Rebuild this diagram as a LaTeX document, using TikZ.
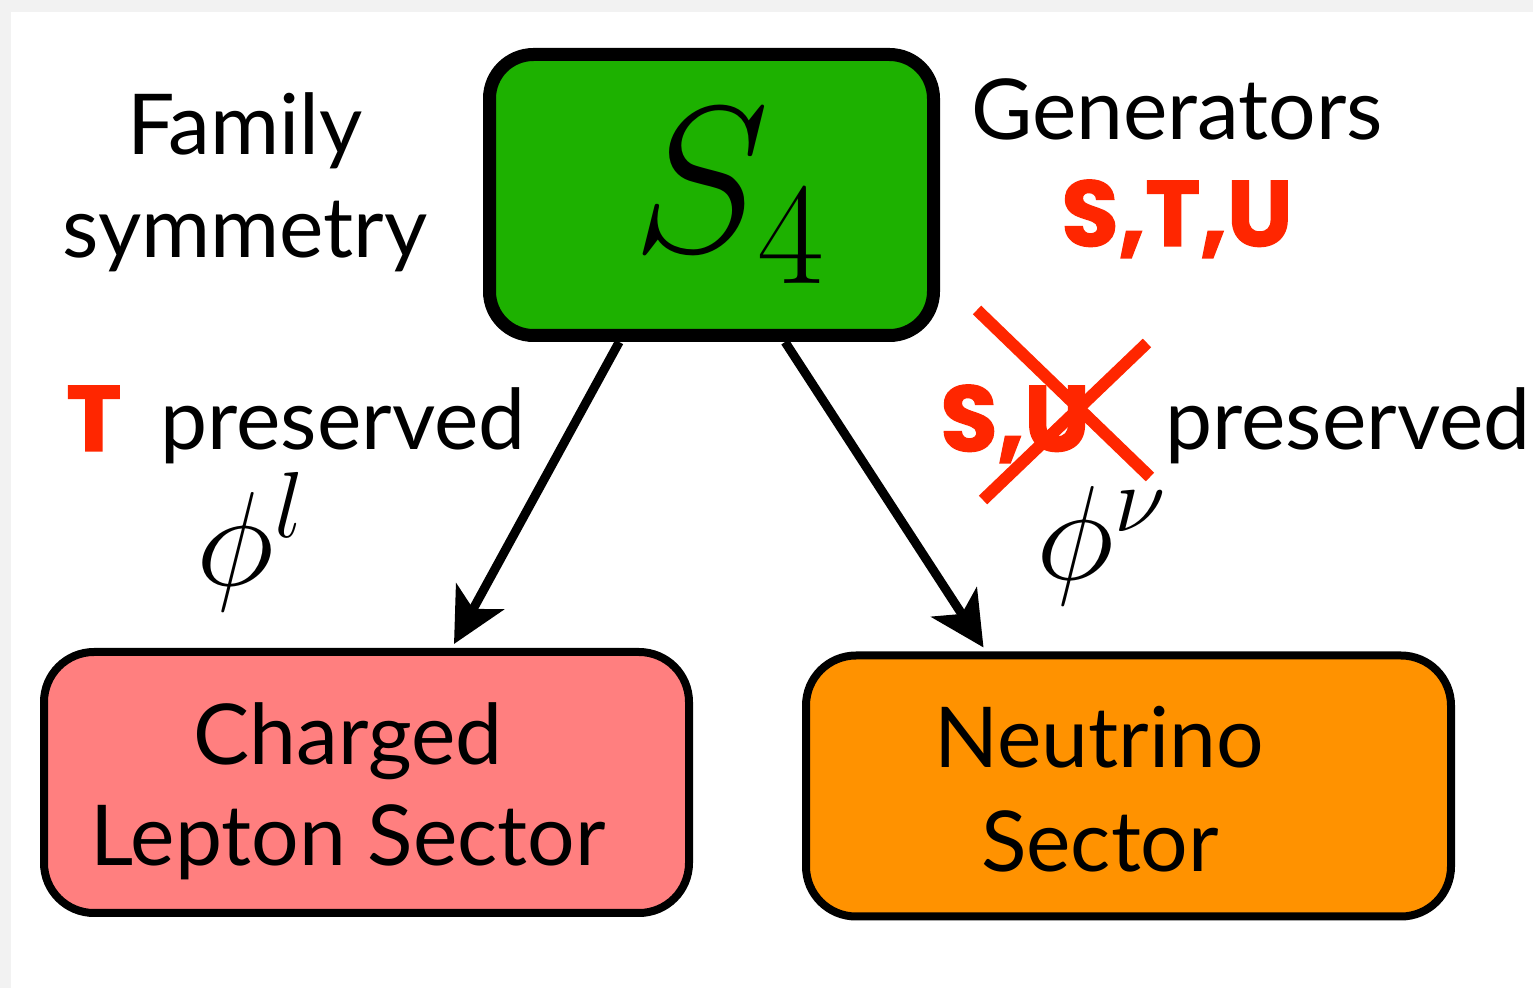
\RequirePackage{fix-cm}
\documentclass[tikz,border=0pt]{standalone}
\usepackage{fontspec}
\setmainfont{Lato}
\newfontfamily\heavyfont[BoldFeatures={FakeBold=1.5}]{Poppins}
\usetikzlibrary{arrows.meta,calc}
\definecolor{pageGray}{HTML}{F2F2F2}
\definecolor{groupGreen}{HTML}{1DB100}
\definecolor{leptonPink}{HTML}{FF7F7F}
\definecolor{nuOrange}{HTML}{FF9200}
\definecolor{genRed}{HTML}{FF2600}
\tikzset{
  label/.style={font=\fontsize{42}{48}\selectfont, inner sep=0pt, anchor=base},
  redlabel/.style={font=\fontsize{46.5}{52}\selectfont\heavyfont\bfseries, text=genRed, inner sep=0pt, anchor=base},
  sectorbox/.style={draw=black, line width=4pt, rounded corners=25pt, inner sep=0pt,
    minimum width=322.5pt, minimum height=130.5pt},
  flow/.style={line width=4.5pt, -{Stealth[length=27pt, width=27pt, inset=7pt]}},
  strike/.style={genRed, line width=6pt},
}
\begin{document}
\begin{tikzpicture}[x=0.5pt, y=-0.5pt]
% page
\fill[pageGray] (0,0) rectangle (1533,988);
\fill[white] (11,12) rectangle (1533,988);
\useasboundingbox (0,0) rectangle (1533,988);

% group box
\node[draw=black, fill=groupGreen, line width=6.5pt, rounded corners=22pt, inner sep=0pt,
      minimum width=222pt, minimum height=140.5pt] (group) at (711.5,195) {};
\node[inner sep=0pt, anchor=base] (glabel) at (729,252)
  {\fontsize{104}{112}\selectfont$S_4$};

% sectors
\node[sectorbox, fill=leptonPink] (lep) at (366.5,782.5) {};
\node[sectorbox, fill=nuOrange] (nu) at (1128.5,786) {};

\node[label] (lep1) at (348,765) {Charged};
\node[label] (lep2) at (348,866) {Lepton Sector};
\node[label] (nu1) at (1099,768) {Neutrino};
\node[label] (nu2) at (1100,872) {Sector};

% side texts
\node[label] (fam1) at (245,155) {Family};
\node[label] (fam2) at (245,258) {symmetry};
\node[label] (gen) at (1177,140) {Generators};
\node[redlabel] (stu) at (1177,246) {S,T,U};

\node[redlabel, anchor=base west] (tl) at (66,451) {T};
\node[label, anchor=base west] (tpres) at (160,450) {preserved};
\node[inner sep=0pt, anchor=base west] (phil) at (196,586)
  {\fontsize{67}{70}\selectfont$\phi^l$};

\node[redlabel, anchor=base west] (su) at (940,451) {S,U};
\node[label, anchor=base west] (supres) at (1165,450) {preserved};
\node[inner sep=0pt, anchor=base west] (phinu) at (1036,580)
  {\fontsize{67}{70}\selectfont$\phi^\nu$};

% crossed-out generators
\coordinate (xa) at (977,310);
\coordinate (xb) at (1150,477);
\coordinate (xc) at (1147,343);
\coordinate (xd) at (983,500);
\draw[strike] (xa) -- (xb);
\draw[strike] (xc) -- (xd);

% breaking arrows
\draw[flow] ($(group.south west)!0.298!(group.south east)$)
   -- ($(lep.north west)!0.634!(lep.north east) + (0,-4)$);
\draw[flow] ($(group.south west)!0.661!(group.south east)$)
   -- ($(nu.north west)!0.278!(nu.north east) + (0,-4)$);
\end{tikzpicture}
\end{document}
